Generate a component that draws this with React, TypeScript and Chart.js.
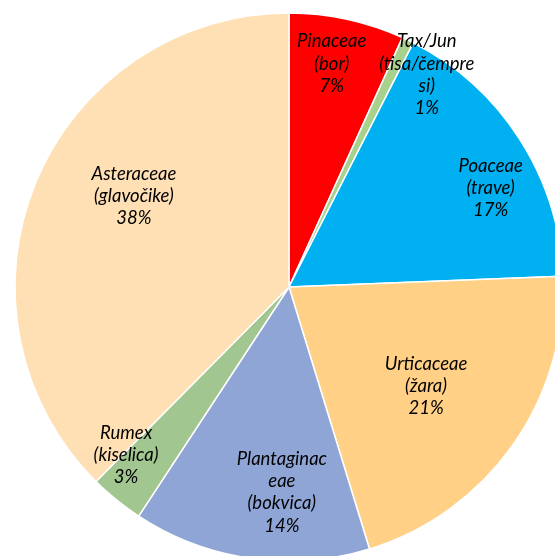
import React, { useEffect, useRef } from "react";
import { Chart, registerables } from "chart.js";

Chart.register(...registerables);

const categories: string[][] = [
  ["Pinaceae", "(bor)"],
  ["Tax/Jun", "(tisa/čempre", "si)"],
  ["Poaceae", "(trave)"],
  ["Urticaceae", "(žara)"],
  ["Plantaginac", "eae", "(bokvica)"],
  ["Rumex", "(kiselica)"],
  ["Asteraceae", "(glavočike)"],
];
const values: number[] = [6.8, 0.7, 16.9, 20.9, 14.0, 3.2, 37.6];
const colors: string[] = ["#FF0000", "#A9D18E", "#00B0F0", "#FFD086", "#8FA5D5", "#A2C690", "#FFDFB4"];

// label placement: angle offset from slice middle (degrees), radius fraction
const labelAngleOffset: number[] = [-1.4, 7.3, 6.5, 0.5, -6.1, 5.1, 8.0];
const labelRadiusFrac: number[] = [0.83, 0.923, 0.82, 0.617, 0.749, 0.854, 0.656];

const labelPlugin = {
  id: "pieLabels",
  afterDatasetsDraw(chart: any) {
    const ctx = chart.ctx;
    const meta = chart.getDatasetMeta(0);
    const data = chart.data.datasets[0].data as number[];
    const total = data.reduce((a, b) => a + b, 0);
    ctx.save();
    ctx.fillStyle = "#000000";
    ctx.font = "italic 18.5px Lato, 'Open Sans', sans-serif";
    ctx.textAlign = "center";
    ctx.textBaseline = "middle";
    const lineH = 22.3;
    meta.data.forEach((arc: any, i: number) => {
      const p = arc.getProps(["x", "y", "startAngle", "endAngle", "outerRadius"], true);
      const mid = (p.startAngle + p.endAngle) / 2 + (labelAngleOffset[i] * Math.PI) / 180;
      const r = p.outerRadius * labelRadiusFrac[i];
      const cx = p.x + Math.cos(mid) * r;
      const cy = p.y + Math.sin(mid) * r;
      const lines = [...categories[i], Math.round((data[i] / total) * 100) + "%"];
      const y0 = cy - ((lines.length - 1) * lineH) / 2;
      lines.forEach((t, k) => ctx.fillText(t, cx, y0 + k * lineH));
    });
    ctx.restore();
  },
};

export default function App() {
  const ref = useRef<HTMLCanvasElement | null>(null);
  useEffect(() => {
    if (!ref.current) return;
    const chart = new Chart(ref.current, {
      type: "pie",
      data: {
        labels: categories.map((c) => c.join(" ")),
        datasets: [
          {
            data: values,
            backgroundColor: colors,
            borderColor: "#FFFFFF",
            borderWidth: 1.5,
            radius: 274,
          } as any,
        ],
      },
      options: {
        animation: false,
        responsive: false,
        maintainAspectRatio: false,
        layout: { padding: { left: 23, right: 0, top: 18, bottom: 0 } },
        plugins: { legend: { display: false }, tooltip: { enabled: false } },
      },
      plugins: [labelPlugin],
    });
    return () => chart.destroy();
  }, []);
  return (
    <div style={{ position: "fixed", left: 0, top: 0, width: 555, height: 556, overflow: "hidden", background: "#fff" }}>
      <canvas ref={ref} width={555} height={556} style={{ width: 555, height: 556, display: "block" }} />
    </div>
  );
}
